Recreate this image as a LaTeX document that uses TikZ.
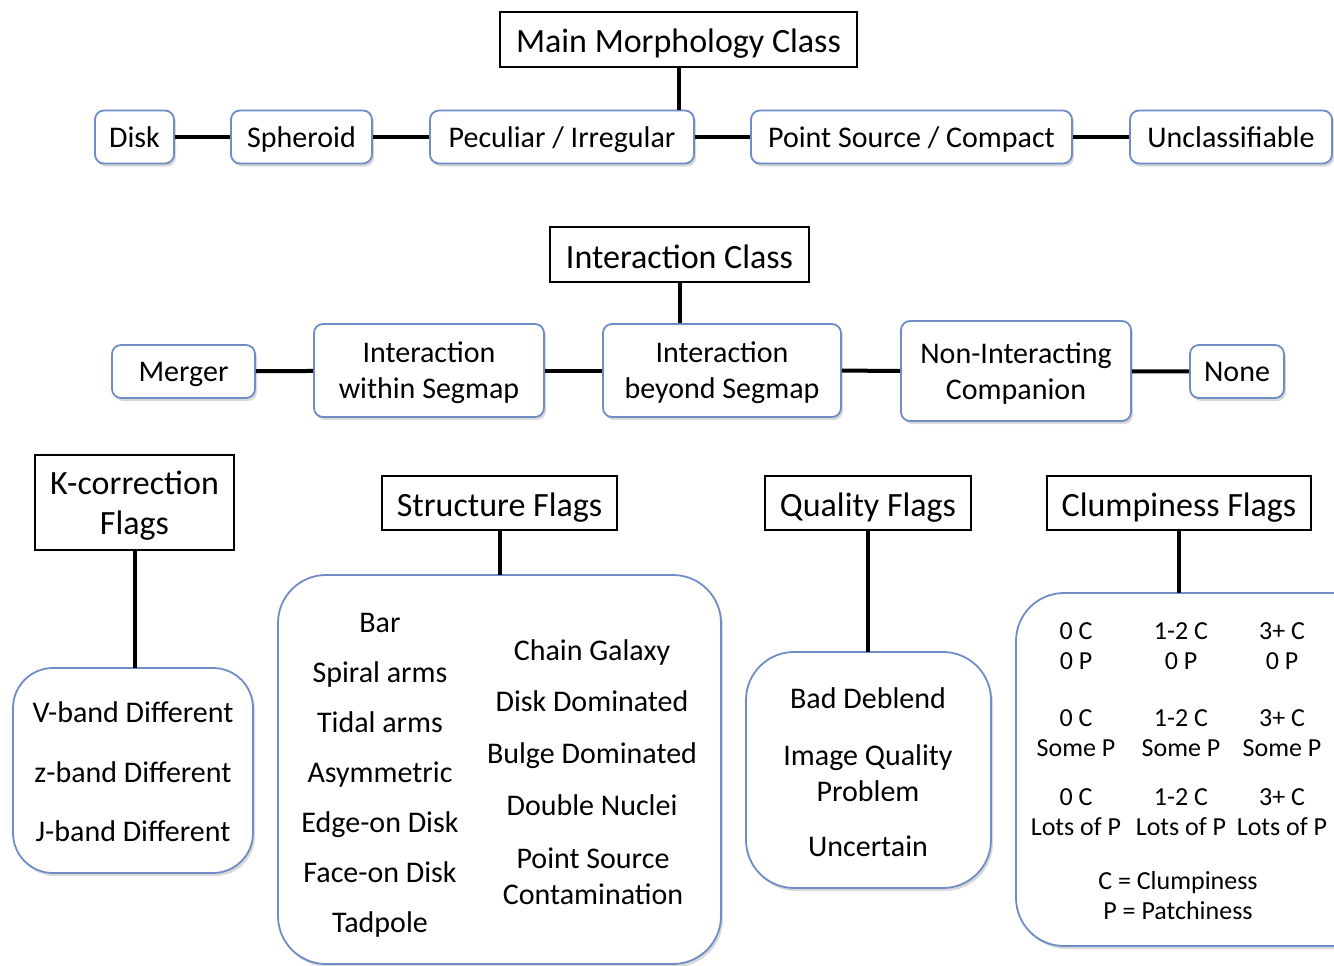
\documentclass[tikz,border=0pt]{standalone}
\usepackage{fontspec}
\setmainfont{Carlito}
\usetikzlibrary{positioning,shadows}
\definecolor{boxblue}{RGB}{112,140,198}

\begin{document}
\begin{tikzpicture}[x=1pt,y=-1pt,
    head/.style={draw=black, line width=1.3pt, fill=white, inner sep=0pt,
      font=\fontsize{34}{40}\selectfont, align=center, text depth=0pt},
    item/.style={draw=boxblue, line width=1.8pt, fill=white, rounded corners=9pt,
      inner sep=0pt, font=\fontsize{30}{36}\selectfont, align=center, text depth=0pt,
      drop shadow={shadow xshift=2pt, shadow yshift=-3pt, opacity=.3, fill=gray}},
    one/.style={text height=20pt},
    onehead/.style={text height=27pt},
    bigbox/.style={draw=boxblue, line width=1.8pt, fill=white, rounded corners=48pt,
      drop shadow={shadow xshift=2pt, shadow yshift=-3pt, opacity=.3, fill=gray}},
    txt/.style={font=\fontsize{30}{36}\selectfont, align=center, inner sep=0pt, text depth=0pt},
    small/.style={font=\fontsize{26}{30}\selectfont, align=center, inner sep=0pt},
    link/.style={line width=4pt, black}]
    \useasboundingbox (0,0) rectangle (1334,966);
    % main morphology
    \node[head, onehead, minimum width=357pt, minimum height=55pt] (mainc) at (678.5,39.5) {Main Morphology Class};
    \node[item, one, minimum width=79pt, minimum height=53pt] (disk) at (134.5,137) {Disk};
    \node[item, one, minimum width=141pt, minimum height=53pt] (spher) at (301.5,137) {Spheroid};
    \node[item, one, minimum width=264pt, minimum height=53pt] (pecul) at (562,137) {Peculiar / Irregular};
    \node[item, one, minimum width=321pt, minimum height=53pt] (point) at (911.5,137) {Point Source / Compact};
    \node[item, one, minimum width=202pt, minimum height=53pt] (uncl) at (1231,137) {Unclassifiable};
    \draw[link] (mainc) -- (mainc |- pecul.north);
    \draw[link] (disk) -- (spher);
    \draw[link] (spher) -- (pecul);
    \draw[link] (pecul) -- (point);
    \draw[link] (point) -- (uncl);
    % interaction
    \node[head, onehead, minimum width=259pt, minimum height=55pt] (interc) at (679.5,254.5) {Interaction Class};
    \node[item, one, minimum width=143pt, minimum height=53pt] (merger) at (183.5,371.5) {Merger};
    \node[item, minimum width=230pt, minimum height=93pt] (within) at (429,370.5) {Interaction\\within Segmap};
    \node[item, minimum width=238pt, minimum height=93pt] (beyond) at (722,370.5) {Interaction\\beyond Segmap};
    \node[item, minimum width=230pt, minimum height=100pt] (nonint) at (1016,371) {Non-Interacting\\Companion};
    \node[item, one, minimum width=94pt, minimum height=53pt] (none) at (1237,371.5) {None};
    \draw[link] (interc) -- (interc |- beyond.north);
    \draw[link] (merger) -- (within);
    \draw[link] (within) -- (beyond);
    \draw[link] (beyond) -- (nonint);
    \draw[link] (nonint) -- (none);
    % flag headers
    \node[head, minimum width=199pt, minimum height=95pt] (kcorr) at (134.5,502.5) {K-correction\\Flags};
    \node[head, onehead, minimum width=235pt, minimum height=54pt] (struct) at (499.5,503) {Structure Flags};
    \node[head, onehead, minimum width=206pt, minimum height=54pt] (qual) at (868,503) {Quality Flags};
    \node[head, onehead, minimum width=264pt, minimum height=54pt] (clump) at (1179,503) {Clumpiness Flags};
    % flag boxes
    \draw[bigbox, rounded corners=40pt] (13,668) rectangle (253,873);
    \coordinate (kbox) at (133,668);
    \draw[bigbox] (278,575) rectangle (721,964);
    \coordinate (sbox) at (500,575);
    \draw[bigbox] (746,652) rectangle (991,888);
    \coordinate (qbox) at (868,652);
    \draw[bigbox] (1016,593) rectangle (1380,946);
    \coordinate (cbox) at (1180,593);
    \draw[link] (kcorr) -- (kcorr.south |- kbox);
    \draw[link] (struct) -- (struct.south |- sbox);
    \draw[link] (qual) -- (qual.south |- qbox);
    \draw[link] (clump) -- (clump.south |- cbox);
    % K-correction entries
    \node[txt, one] (vband) at (133,712) {V-band Different};
    \node[txt, one] (zband) at (133,772) {z-band Different};
    \node[txt, one] (jband) at (133,831) {J-band Different};
    % structure entries
    \foreach \lab [count=\i] in {Bar, Spiral arms, Tidal arms, Asymmetric, Edge-on Disk, Face-on Disk, Tadpole}
      \node[txt, one] (sl\i) at (380,{572+50*\i}) {\lab};
    \node[txt, one] (chain) at (592,650) {Chain Galaxy};
    \node[txt, one] (diskd) at (592,701) {Disk Dominated};
    \node[txt, one] (bulge) at (592,753) {Bulge Dominated};
    \node[txt, one] (nuclei) at (592,805) {Double Nuclei};
    \node[txt] (contam) at (593,876) {Point Source\\Contamination};
    % quality entries
    \node[txt, one] (deblend) at (868,698) {Bad Deblend};
    \node[txt] (imgq) at (868,773) {Image Quality\\Problem};
    \node[txt, one] (uncert) at (868,846) {Uncertain};
    % clumpiness entries
    \foreach \c/\x in {0 C/1076, 1-2 C/1181, 3+ C/1282} {
      \node[small] at (\x,646) {\c\\0 P};
      \node[small] at (\x,733) {\c\\Some P};
      \node[small] at (\x,812) {\c\\Lots of P};
    }
    \node[small] (legend) at (1178,896) {C = Clumpiness\\P = Patchiness};
\end{tikzpicture}
\end{document}
